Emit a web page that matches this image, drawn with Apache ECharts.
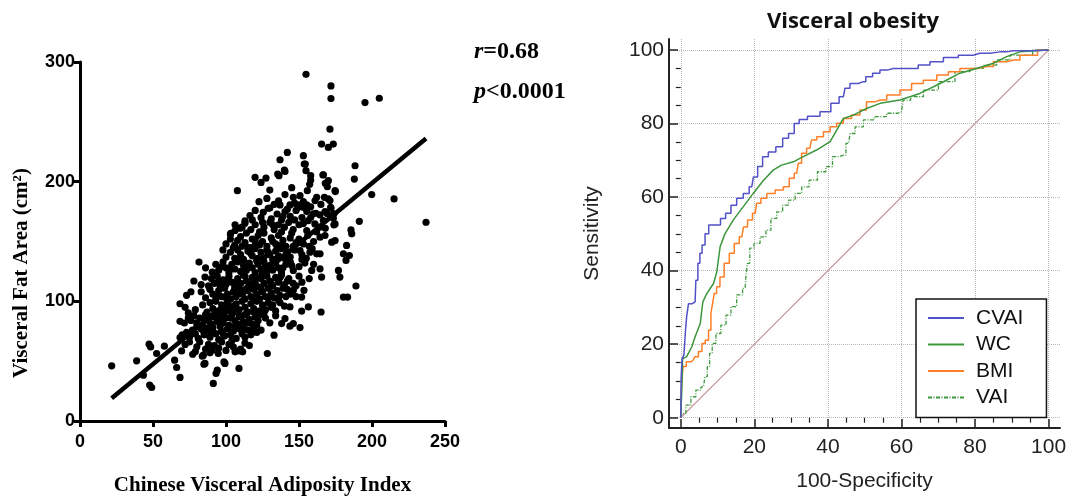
<!DOCTYPE html>
<html><head><meta charset="utf-8">
<script src="https://cdn.jsdelivr.net/npm/echarts@6/dist/echarts.min.js"></script>
<style>html,body{margin:0;padding:0;background:#fff}#c{width:1079px;height:498px}</style>
</head><body><div id="c"></div>
<script>
// ---------- Left panel: scatter CVAI vs VFA ----------
const cvaiTicks = [0, 50, 100, 150, 200, 250];
const vfaTicks = [0, 100, 200, 300];
const vfaPoints = [
[47.7,30],[49.1,28],[43.4,38.3],[91.3,31.4],[93.2,39.7],[94,42.5],[108.9,43.9],[66.2,44.7],[68.5,36.4],[85.6,48.1],[99.3,48.1],
[21.7,46.1],[38.8,50.3],[52.5,56.4],[64.8,50.8],[77.2,55.8],[84.5,55],[84.9,47.5],[98.6,49.4],[94.7,56.4],[83.8,54.2],[106.2,57.8],[111.4,57.8],[108.9,58.6],[128.3,56.4],[90.6,59.2],[57.8,62.5],[47.3,64.2],[48.4,61.9],[69.6,58.6],
[80,62],[82,66],[86,60],[88,64],[92,63],[95,61],[97,66],[100,59],[102,64],[105,62],[110,60],[113,65],[116,63],[79,58],[72,64],[75,66],[104,67],[89,57],
[68.5,69.7],[70,72],[73,74],[75,70],[77,76],[79,73],[81,69],[83,77],[85,72],[87,75],[89,70],[91,78],[93,73],[95,68],[97,75],[99,71],[101,77],[103,72],[105,75],[107,69],[109,77],[111,73],[113,70],[115,76],[117,72],[119,78],[121,74],[124,76],[132.9,71.7],[143.8,79.2],[150.7,78.1],[96,79],[88,78],[80,79],
[84,76],[90,74],[98,73],[106,79],[112,78],[118,75],
[68.5,83.3],[71.5,81.9],[74.2,86],[76,84],[78,88],[80,82],[82,86],[84,80],[86,89],[88,84],[90,81],[92,87],[94,83],[96,88],[98,82],[100,86],[102,80],[104,89],[106,84],[108,81],[110,87],[112,83],[114,89],[116,85],[118,81],[120,87],[122,84],[124,89],[127,86],[130,82],[138.1,81.4],[140.4,85.6],[146.1,81.4],[134,88],
[85,85],[91,88],[97,85],[103,86],[109,88],[115,82],[121,80],
[68.5,98],[74.2,90.3],[72,95],[79,93],[84,97],[87,91],[89,99],[91,94],[93,100],[95,92],[97,97],[99,91],[101,99],[103,94],[105,91],[107,98],[109,93],[111,100],[113,95],[115,91],[117,98],[119,94],[121,100],[123,92],[125,97],[127,93],[129,99],[131,95],[134,92],[143.8,95.3],[151.8,91.9],[156.4,95.3],[165.1,91.1],[137,99],[140,96],
[99,95],[105,96],[113,89],[119,91],[126,90],[132,97],[102,92],
[73,105],[76,108],[86,103],[89,110],[91,106],[93,102],[95,109],[97,104],[99,111],[101,106],[103,102],[105,108],[107,104],[109,111],[111,106],[113,102],[115,109],[117,104],[119,110],[121,106],[123,102],[125,108],[127,104],[129,111],[131,107],[133,103],[135,109],[137,105],[139,111],[141,104],[146.1,109.2],[151.8,103.6],[153.4,109.2],[180.4,103.6],[183.3,103.6],[144,106],[83,108],
[94,105],[100,103],[106,110],[112,108],[118,103],[124,111],[130,104],[136,101],[142,110],[148,104],
[78,117],[83,114],[85.6,120.3],[88,113],[90,119],[92,115],[94,121],[96,113],[98,118],[100,114],[102,121],[104,116],[106,112],[108,119],[110,115],[112,122],[114,117],[116,113],[118,120],[120,116],[122,112],[124,119],[126,115],[128,121],[130,117],[132,113],[134,120],[136,116],[138,122],[140,114],[143,119],[146,115],[150,121],[165.5,120.3],[178,120.3],[189,112.8],[148,113],
[95,117],[101,118],[107,114],[113,121],[119,114],[125,123],[131,115],[137,120],[142,117],[152,116],[157,119],
[81.5,132.8],[90.6,124.4],[86,128],[93,131],[95,126],[98,133],[100,128],[102,124],[104,131],[106,127],[108,133],[110,125],[112,130],[114,126],[116,132],[118,128],[120,124],[122,131],[124,127],[126,133],[128,125],[130,130],[132,126],[134,132],[136,128],[138,124],[141,131],[146.1,125.8],[158.7,125.8],[164.4,127.2],[177,125.8],[182.2,134.2],[150,129],[154,132],[144,133],
[97,129],[103,127],[109,135],[115,129],[121,134],[127,129],[133,135],[139,128],[145,130],[152,135],[160,131],
[97.9,143],[100,137],[103,141],[106,136],[108,143],[110,139],[112,135],[115,142],[118,138],[120,144],[122,136],[124,141],[126,137],[128,143],[130,139],[132,135],[134,142],[136,138],[138,144],[140,136],[142,141],[144,137],[147,143],[150.7,142.5],[157.5,141.1],[162.1,139.7],[164.4,139.7],[180.4,139.7],[184.5,138.3],[155,136],[117,145],
[105,145],[111,146],[117,140],[123,147],[129,141],[135,146],[141,139],[146,146],[152,139],[159,144],
[100,148],[103,152],[106,147],[110,154],[113,149],[115,145],[118,152],[120,147],[122,155],[125,150],[128,146],[131,153],[134,148],[136,155],[139,151],[141,146],[144,153],[148,149],[153,148],[164.4,153.6],[167.8,155],[172.4,149.4],[174.7,150.8],[182.6,146.7],[186.1,156.4],[160,150],[157,146],
[108,151],[114,157],[120,151],[126,157],[132,150],[138,147],[145,157],[150,152],[156,155],[162,158],
[103,155.8],[106.2,159.2],[103.2,156.9],[109.6,161.1],[106.2,163.9],[113,165.3],[117,160],[120,164],[123,158],[126,162],[130,166],[133,160],[136,164],[138,158],[140,162],[143,166],[146,160],[150,164],[155.3,159.2],[156.4,167.5],[160.9,164.7],[166.7,167.5],[174.7,164.7],[173.9,163.9],[185.6,159.7],[191.3,166.9],[237,166.1],[168,161],
[111,162],[118,168],[125,166],[132,164],[139,171],[147,168],[153,165],[158,170],[164,162],
[113,167.2],[116.4,171.7],[120,176],[124,170],[125.5,174.4],[128.9,177.8],[131,169],[135,173],[138,168],[140.4,175],[144,171],[148,176],[152,170],[155.3,175],[159.8,173.1],[161.6,173.6],[164.4,172.2],[167.8,175],[169.4,173.1],[173.5,169.4],[171.9,177.8],[173.9,173.1],
[130,178],[136,184],[142,177],[147,182],[158,179],[165,181],
[122.6,183.3],[128,186],[133,181],[137,180.6],[140.4,189.2],[143.8,180.6],[146.1,186.9],[150.2,180.6],[153,183.3],[150.7,188.3],[149.5,178.6],[155.3,180.6],[161,184.2],[162.1,186.9],[167.4,186.9],[170.1,185.6],[171.2,184.2],[171.7,178.6],[153,178.6],
[107.8,192.5],[124,199.4],[155.7,192.5],[157.3,197.8],[168,198.6],[169.4,195.8],[174.7,192.5],[174.9,191.7],[199.8,189.2],[215.1,185.6],[130,193],[145,195],
[119.9,203.6],[127.4,203],[135.4,206.4],[136.3,205],[140.4,208.6],[140,209.7],[158,205],[158,201.4],[166.7,205.8],[166.4,205.6],[170.1,200.8],[187.9,202.2],[154.8,209.2],
[137,218.3],[142,224.4],[153,221.7],[154.3,214.7],[153.6,214.7],[165.5,231.4],[170.1,228.6],[173.5,231.4],[171.2,243.9],[188.4,213.3],[154.8,289.7],[171.9,280],[171.9,269.4],[195.2,266.1],[205,269.7]
];
const fitLine = [[21.7, 19], [237, 236]];

// ---------- Right panel: ROC curves ----------
const rocTicks = [0, 20, 40, 60, 80, 100];
const rocMinorTicks = [5,10,15,25,30,35,45,50,55,65,70,75,85,90,95];
const seriesNames = ['CVAI', 'WC', 'BMI', 'VAI'];
const rocCVAI = [[0,0],[0.2,11],[0.5,16],[1.2,17],[1.4,24],[1.8,27.5],[2.4,31],[3.9,31.5],[4.3,37.4],[5,42],[5.4,44.7],[6.2,47],[7,50],[8.2,52.4],[10.2,52.4],[11.4,54.2],[13,55.6],[14.3,57.8],[16.1,59.7],[17.9,61],[19.3,62.8],[20.2,65.5],[21.6,68.3],[22.9,71],[24.7,72.3],[27,73.7],[28.4,76],[30.2,77.3],[31.5,80],[32.9,81.1],[36,82],[39.7,83.2],[41.9,85.5],[44.2,87.3],[45.1,89.6],[46.9,90.9],[49.6,91.4],[51,92.7],[53.3,93.7],[55,94.6],[57.8,95],[63.2,95],[65.9,95.9],[69.6,96.8],[73.2,98],[77.7,98.6],[81.3,99.1],[86.8,99.5],[90.4,99.8],[100,100]];
const rocWC = [[0,0],[0.3,8],[0.5,16],[1.6,16.6],[3,19.3],[3.9,22],[5.3,25.6],[6,31.5],[7.1,33.8],[8.9,36.5],[9.8,39.7],[10.7,46.5],[12,50],[14.3,53.8],[17,57.4],[19.7,61],[22.5,64.6],[25.2,67.4],[27.4,68.7],[30.6,69.6],[33.3,71],[36.9,72.8],[40.6,75.1],[42.4,78.2],[44.2,81.4],[46.9,82.3],[50.5,84.1],[54.2,85.5],[59.6,86.4],[65,88.2],[70.5,90.9],[75.9,93.7],[80.4,95],[85,96.4],[88.6,98.2],[92.2,99.5],[100,100]];
const rocBMI = [[0,0],[0.3,8],[0.9,13.9],[2.1,15.2],[3.4,15.7],[4.3,16.6],[5.3,18],[6.2,20.2],[7.1,21.1],[8,23.8],[8.4,28.4],[8.9,31.1],[9.3,33.8],[10.2,35.6],[11.1,38.3],[12.5,42],[13.9,44.7],[15.2,47.4],[16.6,49.2],[17.5,51.9],[18.8,53.8],[20.2,55.6],[21.1,58.3],[22.5,59.7],[24.3,61],[27,61.9],[28.8,62.8],[30.2,65.1],[31.5,66.5],[32.4,69.2],[33.3,71.9],[35.1,73.3],[36,75.5],[37.9,76.4],[39.7,77.8],[41.5,79.1],[43.3,80.1],[45.1,81.4],[47.8,82.3],[49.6,83.7],[51.4,85.9],[54.2,86.4],[57.8,87.8],[61.4,89.1],[64.1,90.9],[67.8,91.8],[71.4,93.2],[74.1,94.1],[77.7,95],[83.2,95.5],[86.8,96.8],[90.4,97.3],[94,98.6],[100,100]];
const rocVAI = [[0,0],[0.7,1.2],[2.1,3.4],[3.4,5.7],[4.8,7.5],[6.2,8.4],[6.9,11.2],[7.5,13.9],[8.2,17.5],[8.9,20.2],[10.2,22.9],[11.6,25.2],[13,27.9],[14.3,30.2],[16.1,33.4],[17.5,35.2],[17.9,38.3],[18.3,42],[19.2,46.1],[20.6,47.4],[22.5,49.2],[23.8,51],[25.2,54.2],[27,56],[28.4,57.8],[30.2,59.2],[32,61],[33.8,62.8],[36,64.6],[38.3,66.9],[40.6,68.3],[41.9,71],[44.2,71.4],[45.6,74.6],[46.5,77.3],[48.3,79.1],[51,81],[54.2,81.9],[57.8,82.8],[60,83.2],[60.9,86.4],[64.1,87.3],[67.8,89.1],[72.3,91.4],[76.8,94.1],[80.4,95],[84.1,95.9],[87.7,97.3],[91.3,98.6],[100,100]];
const chanceLine = [[0, 0], [100, 100]];

const serif = '"Liberation Serif","Times New Roman",serif';
const sans = '"Liberation Sans",Arial,sans-serif';

const chart = echarts.init(document.getElementById('c'), null, {renderer: 'canvas'});
const leftAxisCommon = {
  axisLine: {lineStyle: {color: '#000', width: 3}},
  axisTick: {length: 6, lineStyle: {color: '#000', width: 3}},
  axisLabel: {fontFamily: sans, fontWeight: 'bold', fontSize: 18, color: '#000'},
  splitLine: {show: false}
};
const rocAxisLabel = {fontFamily: sans, fontSize: 21, color: '#222', customValues: rocTicks};
chart.setOption({
  animation: false,
  grid: [
    {left: 80, top: 62, width: 365, height: 359, outerBoundsMode: 'none', containLabel: false},
    {left: 669, top: 39, width: 391, height: 389, outerBoundsMode: 'none', containLabel: false}
  ],
  xAxis: [
    Object.assign({gridIndex: 0, type: 'value', min: cvaiTicks[0], max: cvaiTicks[cvaiTicks.length-1], interval: 50,
      name: 'Chinese Visceral Adiposity Index', nameLocation: 'middle', nameGap: 54,
      nameTextStyle: {fontFamily: serif, fontWeight: 'bold', fontSize: 21, color: '#000'}}, leftAxisCommon,
      {axisLabel: Object.assign({}, leftAxisCommon.axisLabel, {margin: 12})}),
    {gridIndex: 1, type: 'value', min: -3.2, max: 103.1,
      name: '100-Specificity', nameLocation: 'middle', nameGap: 43,
      nameTextStyle: {fontFamily: sans, fontSize: 21, color: '#222'},
      axisLine: {onZero: false, lineStyle: {color: '#222', width: 2}},
      axisTick: {inside: true, length: 9, customValues: rocTicks, lineStyle: {color: '#222', width: 1.5}},
      axisLabel: Object.assign({margin: 9}, rocAxisLabel),
      splitLine: {show: true, lineStyle: {color: '#b8b8b8', type: 'dotted', width: 1}}},
    {gridIndex: 1, type: 'value', min: -3.2, max: 103.1,
      axisLine: {show: false}, axisLabel: {show: false}, splitLine: {show: false},
      axisTick: {inside: true, length: 5, customValues: rocMinorTicks, lineStyle: {color: '#222', width: 1.2}}}
  ],
  yAxis: [
    Object.assign({gridIndex: 0, type: 'value', min: vfaTicks[0], max: vfaTicks[vfaTicks.length-1], interval: 100}, leftAxisCommon,
      {axisLabel: Object.assign({}, leftAxisCommon.axisLabel, {margin: 5})}),
    {gridIndex: 1, type: 'value', min: -2.8, max: 103,
      name: 'Sensitivity', nameLocation: 'middle', nameGap: 66,
      nameTextStyle: {fontFamily: sans, fontSize: 21, color: '#222'},
      axisLine: {onZero: false, lineStyle: {color: '#222', width: 2}},
      axisTick: {inside: true, length: 9, customValues: rocTicks, lineStyle: {color: '#222', width: 1.5}},
      axisLabel: Object.assign({margin: 5}, rocAxisLabel),
      splitLine: {show: true, lineStyle: {color: '#b8b8b8', type: 'dotted', width: 1}}},
    {gridIndex: 1, type: 'value', min: -2.8, max: 103,
      axisLine: {show: false}, axisLabel: {show: false}, splitLine: {show: false},
      axisTick: {inside: true, length: 5, customValues: rocMinorTicks, lineStyle: {color: '#222', width: 1.2}}}
  ],
  legend: {
    data: seriesNames, orient: 'vertical', left: 916, top: 299,
    padding: [7, 23, 8, 11], itemWidth: 36, itemHeight: 10, itemGap: 2.5,
    itemStyle: {opacity: 0},
    borderColor: '#111', borderWidth: 1.5, backgroundColor: '#fff',
    textStyle: {fontFamily: sans, fontSize: 21, lineHeight: 24, color: '#111', padding: [0, 0, 0, 7]},
    selectedMode: false
  },
  graphic: [
    {type: 'text', left: 474, top: 40, style: {
      text: '{i|r}{b|=0.68}\n{i|p}{b|<0.0001}',
      rich: {
        i: {fontFamily: serif, fontStyle: 'italic', fontWeight: 'bold', fontSize: 24, lineHeight: 40, fill: '#000'},
        b: {fontFamily: serif, fontWeight: 'bold', fontSize: 24, lineHeight: 40, fill: '#000'}
      }}},
    {type: 'text', x: 22, y: 273, rotation: Math.PI / 2, style: {
      text: 'Visceral Fat Area (cm²)', font: 'bold 21px ' + serif, fill: '#000',
      align: 'center', verticalAlign: 'middle'}},
    {type: 'text', x: 853, y: 22, style: {
      text: 'Visceral obesity', font: 'bold 22px "Open Sans", ' + sans, fill: '#111',
      align: 'center', verticalAlign: 'middle'}}
  ],
  series: [
    {type: 'scatter', xAxisIndex: 0, yAxisIndex: 0, data: vfaPoints, symbolSize: 7.2,
      itemStyle: {color: '#000', opacity: 1}, silent: true},
    {type: 'line', xAxisIndex: 0, yAxisIndex: 0, data: fitLine, symbol: 'none',
      lineStyle: {color: '#000', width: 4.5}, silent: true},
    {name: 'chance', type: 'line', xAxisIndex: 1, yAxisIndex: 1, data: chanceLine, symbol: 'none',
      lineStyle: {color: '#c99a9a', width: 1.2}, silent: true, z: 1},
    {name: 'VAI', type: 'line', xAxisIndex: 1, yAxisIndex: 1, data: rocVAI, symbol: 'none', step: 'middle',
      itemStyle: {color: '#3c9a3c'}, lineStyle: {color: '#3c9a3c', width: 1.3, type: [4, 1.5, 1, 1.5]}},
    {name: 'BMI', type: 'line', xAxisIndex: 1, yAxisIndex: 1, data: rocBMI, symbol: 'none', step: 'middle',
      itemStyle: {color: '#ff7f27'}, lineStyle: {color: '#ff7f27', width: 1.5}},
    {name: 'WC', type: 'line', xAxisIndex: 1, yAxisIndex: 1, data: rocWC, symbol: 'none',
      itemStyle: {color: '#3c963c'}, lineStyle: {color: '#3c963c', width: 1.5}},
    {name: 'CVAI', type: 'line', xAxisIndex: 1, yAxisIndex: 1, data: rocCVAI, symbol: 'none', step: 'middle',
      itemStyle: {color: '#5252c8'}, lineStyle: {color: '#5252c8', width: 1.5}}
  ]
});
</script></body></html>
